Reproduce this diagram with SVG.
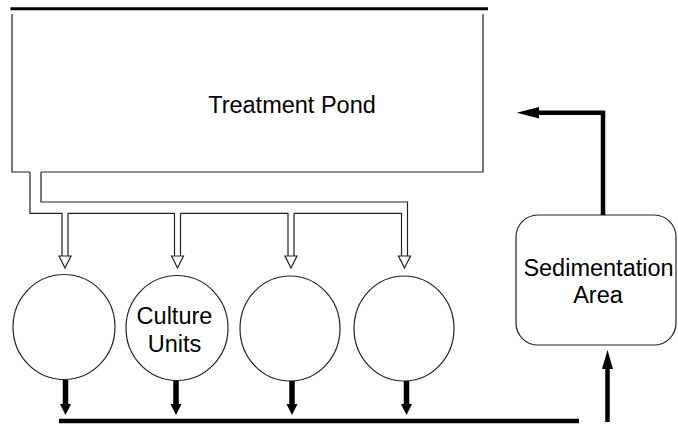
<svg xmlns="http://www.w3.org/2000/svg" width="678" height="425" viewBox="0 0 678 425">
<style>
.thin{fill:none;stroke:#222;stroke-width:1.2}
.shape{fill:#fff;stroke:#222;stroke-width:1.2}
.txt{font-family:"Liberation Sans",Arial,sans-serif;font-size:23.5px;fill:#000;text-anchor:middle}
.thick{fill:none;stroke:#000;stroke-width:4.5}
.head{fill:#000;stroke:none}
.open{fill:#fff;stroke:#222;stroke-width:1.2;stroke-linejoin:miter}
</style>
<rect width="678" height="425" fill="#fff"/>
<g id="pond">
<line x1="10.5" y1="8.7" x2="488" y2="8.7" stroke="#000" stroke-width="3"/>
<path class="thin" d="M12,14 V172 H30 M41,172 H483 V14"/>
<text class="txt" x="292" y="113">Treatment Pond</text>
</g>
<g id="culture1"><ellipse class="shape" cx="64" cy="327" rx="51" ry="52.5"/></g>
<g id="culture2"><ellipse class="shape" cx="177" cy="328" rx="51" ry="52.5"/>
<text class="txt" x="174.5" y="324">Culture</text><text class="txt" x="174.5" y="352">Units</text></g>
<g id="culture3"><ellipse class="shape" cx="290" cy="328.5" rx="50" ry="52.5"/></g>
<g id="culture4"><ellipse class="shape" cx="404" cy="328.5" rx="50" ry="52.5"/></g>
<g id="sedimentation">
<rect class="shape" x="516" y="215" width="160" height="130" rx="22" ry="22"/>
<text class="txt" x="598.5" y="276">Sedimentation</text>
<text class="txt" x="598" y="303">Area</text>
</g>
<g id="connectors">
<path class="thin" d="M30,172 V213.3 H62 V256 M68,213.3 H174.5 V256 M180.5,213.3 H288 V256 M294,213.3 H401.5 V256 M41,172 V202 H407.5 V256 M180.5,213.3 V256 M68,213.3 V256 M294,213.3 V256"/>
<polygon class="open" points="59,256 71,256 65,268"/>
<polygon class="open" points="171.5,256 183.5,256 177.5,268"/>
<polygon class="open" points="285,256 297,256 291,268"/>
<polygon class="open" points="398.5,256 410.5,256 404.5,268"/>
<path d="M65.5,380 V405 M176,381 V405 M292,381 V405 M406.5,381 V405" stroke="#000" stroke-width="5.5" fill="none"/>
<polygon class="head" points="60,404 71,404 65.5,415"/>
<polygon class="head" points="170.5,404 181.5,404 176,415"/>
<polygon class="head" points="286.5,404 297.5,404 292,415"/>
<polygon class="head" points="401,404 412,404 406.5,415"/>
<line x1="59" y1="421" x2="579" y2="421" stroke="#000" stroke-width="4.5"/>
<path class="thick" d="M607.5,422 V366"/>
<polygon class="head" points="607.5,350 613,369 602,369"/>
<path class="thick" d="M603,215 V112.7 H535"/>
<polygon class="head" points="516.7,112.7 539,107 539,118.4"/>
</g>
</svg>
